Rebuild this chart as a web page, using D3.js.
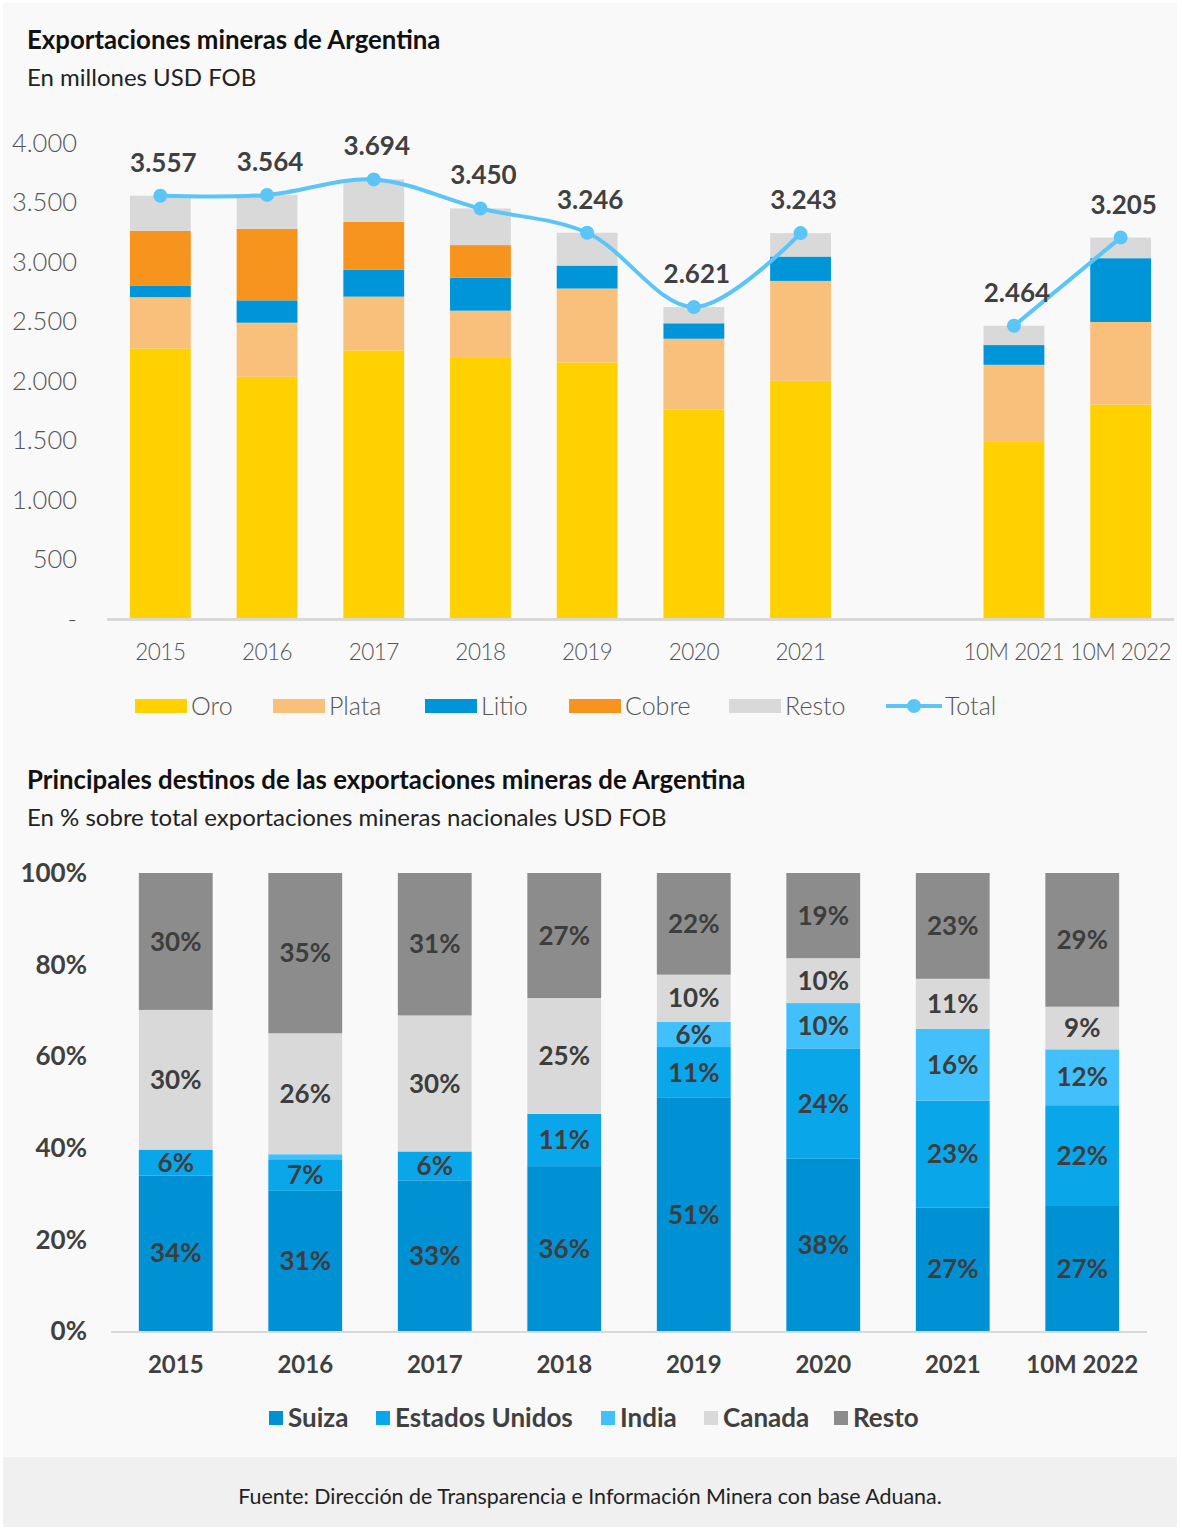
<!DOCTYPE html>
<meta charset="utf-8">
<style>
body { margin: 0; background: #fff; }
svg { display: block; }
text { font-family: Lato, "Noto Sans", sans-serif; }
.title { font-size: 25.8px; font-weight: 700; fill: #111; }
.subtitle { font-size: 24px; font-weight: 400; fill: #222; }
.tick-top { font-size: 25.5px; font-weight: 300; fill: #555; }
.bold-lbl { font-size: 26px; font-weight: 700; fill: #3d3d3d; }
</style>
<svg width="1182" height="1530"></svg>
<script src="https://cdn.jsdelivr.net/npm/d3@7"></script>
<script>

// ---- top chart data (millones USD FOB) ----
var years = ["2015", "2016", "2017", "2018", "2019", "2020", "2021", "", "10M 2021", "10M 2022"];
var oro    = [2274, 2035, 2257, 2201, 2156, 1760, 2002, null, 1488, 1802];
var plata  = [430, 455, 452, 390, 621, 595, 839, null, 648, 694];
var litio  = [95, 188, 225, 278, 193, 130, 205, null, 166, 536];
var cobre  = [463, 601, 404, 273, 0, 0, 0, null, 0, 0];
var restoM = [295, 285, 356, 308, 276, 136, 197, null, 162, 173];
var total  = [3557, 3564, 3694, 3450, 3246, 2621, 3243, null, 2464, 3205];
var yTicks = [0, 500, 1000, 1500, 2000, 2500, 3000, 3500, 4000];

var mineralNames  = ["Oro", "Plata", "Litio", "Cobre", "Resto"];
var mineralColors = ["#ffd100", "#f9c07c", "#0094d9", "#f7941e", "#d9d9d9"];

// ---- bottom chart data (% destinos) ----
var destYears = ["2015", "2016", "2017", "2018", "2019", "2020", "2021", "10M 2022"];
var suiza   = [33.9, 30.6, 32.9, 36.0, 50.9, 37.6, 27.0, 27.3];
var eeuu    = [5.7, 6.9, 6.3, 11.4, 11.1, 24.1, 23.3, 22.0];
var india   = [0, 1.1, 0, 0, 5.5, 9.9, 15.7, 12.2];
var canada  = [30.5, 26.4, 29.7, 25.3, 10.3, 9.8, 10.9, 9.3];
var restoD  = [29.9, 35.0, 31.1, 27.3, 22.2, 18.6, 23.1, 29.2];
var pctTicks = [0, 20, 40, 60, 80, 100];

var destNames  = ["Suiza", "Estados Unidos", "India", "Canada", "Resto"];
var destColors = ["#0090d4", "#0aa6ea", "#42c0fb", "#d9d9d9", "#8c8c8c"];

var svg = d3.select("svg");
var locale = d3.formatLocale({decimal: ",", thousands: ".", grouping: [3], currency: ["$", ""]});
var fmt = locale.format(",d");

// background panels
svg.append("rect").attr("x", 3).attr("y", 3).attr("width", 1174).attr("height", 1454).attr("fill", "#f9f9f9");
svg.append("rect").attr("x", 3).attr("y", 1457).attr("width", 1174).attr("height", 70).attr("fill", "#f0f0f0");
svg.append("text").attr("x", 590).attr("y", 1504).attr("text-anchor", "middle")
    .style("font-size", "21.4px").style("fill", "#222")
    .text("Fuente: Dirección de Transparencia e Información Minera con base Aduana.");

// ================= TOP CHART =================
svg.append("text").attr("class", "title").attr("x", 27).attr("y", 49).text("Exportaciones mineras de Argentina");
svg.append("text").attr("class", "subtitle").attr("x", 27).attr("y", 86).text("En millones USD FOB");

var x1 = d3.scaleBand().domain(years).range([107, 1174]).paddingInner(0.43).paddingOuter(0.215);
var y1 = d3.scaleLinear().domain([0, 4000]).range([619, 143]);

var gTop = svg.append("g");

gTop.append("g").selectAll("text")
    .data(yTicks)
    .enter().append("text")
      .attr("class", "tick-top")
      .attr("x", 77)
      .attr("y", function(d) { return y1(d); })
      .attr("dy", "0.35em")
      .attr("text-anchor", "end")
      .text(function(d) { return d === 0 ? "-" : fmt(d); });

var mineralSeries = [oro, plata, litio, cobre, restoM];
var topRows = years.map(function(yr, i) {
  var r = {year: yr};
  mineralNames.forEach(function(n, k) { r[n] = mineralSeries[k][i] || 0; });
  return r;
}).filter(function(r) { return r.year !== ""; });

var stack1 = d3.stack().keys(mineralNames)(topRows);

gTop.append("g").selectAll("g")
    .data(stack1)
    .enter().append("g")
      .attr("fill", function(d, i) { return mineralColors[i]; })
    .selectAll("rect")
    .data(function(d) { return d; })
    .enter().append("rect")
      .attr("x", function(d) { return x1(d.data.year); })
      .attr("width", x1.bandwidth())
      .attr("y", function(d) { return y1(d[1]); })
      .attr("height", function(d) { return y1(d[0]) - y1(d[1]); });

// axis line
gTop.append("line")
    .attr("x1", 107).attr("x2", 1174)
    .attr("y1", y1(0) + 0.5).attr("y2", y1(0) + 0.5)
    .attr("stroke", "#d9d9d9").attr("stroke-width", 3);

gTop.append("g").selectAll("text")
    .data(years.filter(function(d) { return d !== ""; }))
    .enter().append("text")
      .attr("x", function(d) { return x1(d) + x1.bandwidth() / 2; })
      .attr("y", 660)
      .attr("text-anchor", "middle")
      .style("font-size", "22.5px").style("font-weight", 300).style("fill", "#555")
      .style("letter-spacing", "-0.5px")
      .text(function(d) { return d; });

// total line (two segments)
var pts = years.map(function(yr, i) { return {year: yr, v: total[i]}; });
var seg1 = pts.slice(0, 7), seg2 = pts.slice(8);
var line = d3.line()
    .x(function(d) { return x1(d.year) + x1.bandwidth() / 2; })
    .y(function(d) { return y1(d.v); })
    .curve(d3.curveCatmullRom.alpha(0.5));

[seg1, seg2].forEach(function(s) {
  gTop.append("path").datum(s)
      .attr("d", line)
      .attr("fill", "none")
      .attr("stroke", "#5bc5f7")
      .attr("stroke-width", 4);
});

var ptsOk = pts.filter(function(d) { return d.v != null; });
gTop.append("g").selectAll("circle")
    .data(ptsOk)
    .enter().append("circle")
      .attr("cx", function(d) { return x1(d.year) + x1.bandwidth() / 2; })
      .attr("cy", function(d) { return y1(d.v); })
      .attr("r", 7)
      .attr("fill", "#5bc5f7");

gTop.append("g").selectAll("text")
    .data(ptsOk)
    .enter().append("text")
      .attr("x", function(d) { return x1(d.year) + x1.bandwidth() / 2 + 3; })
      .attr("y", function(d) { return y1(d.v) - 24; })
      .attr("text-anchor", "middle")
      .style("font-size", "26px").style("font-weight", 700).style("fill", "#404040")
      .text(function(d) { return fmt(d.v); });

// legend top
var leg1 = [
  {name: "Oro", x: 135, c: mineralColors[0]},
  {name: "Plata", x: 273, c: mineralColors[1]},
  {name: "Litio", x: 425, c: mineralColors[2]},
  {name: "Cobre", x: 569, c: mineralColors[3]},
  {name: "Resto", x: 729, c: mineralColors[4]}
];
var lg1 = gTop.append("g");
leg1.forEach(function(d) {
  lg1.append("rect").attr("x", d.x).attr("y", 699).attr("width", 52).attr("height", 14).attr("fill", d.c);
  lg1.append("text").attr("x", d.x + 56).attr("y", 706).attr("dy", "0.35em")
      .style("font-size", "25px").style("font-weight", 300).style("fill", "#555").text(d.name);
});
lg1.append("line").attr("x1", 886).attr("x2", 942).attr("y1", 706).attr("y2", 706)
    .attr("stroke", "#5bc5f7").attr("stroke-width", 4);
lg1.append("circle").attr("cx", 914).attr("cy", 706).attr("r", 7).attr("fill", "#5bc5f7");
lg1.append("text").attr("x", 945).attr("y", 706).attr("dy", "0.35em")
    .style("font-size", "25px").style("font-weight", 300).style("fill", "#555").text("Total");

// ================= BOTTOM CHART =================
svg.append("text").attr("class", "title").attr("x", 27).attr("y", 789).text("Principales destinos de las exportaciones mineras de Argentina");
svg.append("text").attr("class", "subtitle").attr("x", 27).attr("y", 826).text("En % sobre total exportaciones mineras nacionales USD FOB");

var x2 = d3.scaleBand().domain(destYears).range([111, 1147]).paddingInner(0.43).paddingOuter(0.215);
var y2 = d3.scaleLinear().domain([0, 100]).range([1331, 873]);

var gBot = svg.append("g");

gBot.append("g").selectAll("text")
    .data(pctTicks)
    .enter().append("text")
      .attr("x", 87)
      .attr("y", function(d) { return y2(d); })
      .attr("dy", "0.35em")
      .attr("text-anchor", "end")
      .style("font-size", "26px").style("font-weight", 700).style("fill", "#404040")
      .text(function(d) { return d + "%"; });

var destSeries = [suiza, eeuu, india, canada, restoD];
var botRows = destYears.map(function(yr, i) {
  var r = {year: yr};
  destNames.forEach(function(n, k) { r[n] = destSeries[k][i]; });
  return r;
});
var stack2 = d3.stack().keys(destNames)(botRows);

var layers = gBot.append("g").selectAll("g")
    .data(stack2)
    .enter().append("g");

layers.selectAll("rect")
    .data(function(d, i) { return d.map(function(p) { p.ci = i; return p; }); })
    .enter().append("rect")
      .attr("fill", function(d) { return destColors[d.ci]; })
      .attr("x", function(d) { return x2(d.data.year); })
      .attr("width", x2.bandwidth())
      .attr("y", function(d) { return y2(Math.min(d[1], 100)); })
      .attr("height", function(d) { return y2(d[0]) - y2(Math.min(d[1], 100)); });

layers.selectAll("text")
    .data(function(d) { return d.filter(function(p) { return p[1] - p[0] >= 3; }); })
    .enter().append("text")
      .attr("class", "bold-lbl")
      .attr("x", function(d) { return x2(d.data.year) + x2.bandwidth() / 2; })
      .attr("y", function(d) { return y2((d[0] + Math.min(d[1], 100)) / 2); })
      .attr("dy", "0.35em")
      .attr("text-anchor", "middle")
      .text(function(d) { return Math.round(d[1] - d[0]) + "%"; });

gBot.append("line")
    .attr("x1", 111).attr("x2", 1147)
    .attr("y1", y2(0) + 1).attr("y2", y2(0) + 1)
    .attr("stroke", "#d9d9d9").attr("stroke-width", 2);

gBot.append("g").selectAll("text")
    .data(destYears)
    .enter().append("text")
      .attr("x", function(d) { return x2(d) + x2.bandwidth() / 2; })
      .attr("y", 1365)
      .attr("dy", "0.35em")
      .attr("text-anchor", "middle")
      .style("font-size", "24px").style("font-weight", 700).style("fill", "#404040")
      .text(function(d) { return d; });

var leg2 = [
  {name: "Suiza", x: 269},
  {name: "Estados Unidos", x: 376},
  {name: "India", x: 601},
  {name: "Canada", x: 704},
  {name: "Resto", x: 834}
];
var lg2 = gBot.append("g");
leg2.forEach(function(d, i) {
  lg2.append("rect").attr("x", d.x).attr("y", 1411).attr("width", 14).attr("height", 14).attr("fill", destColors[i]);
  lg2.append("text").attr("x", d.x + 19).attr("y", 1418).attr("dy", "0.35em")
      .style("font-size", "26px").style("font-weight", 700).style("fill", "#404040").text(d.name);
});

</script>
